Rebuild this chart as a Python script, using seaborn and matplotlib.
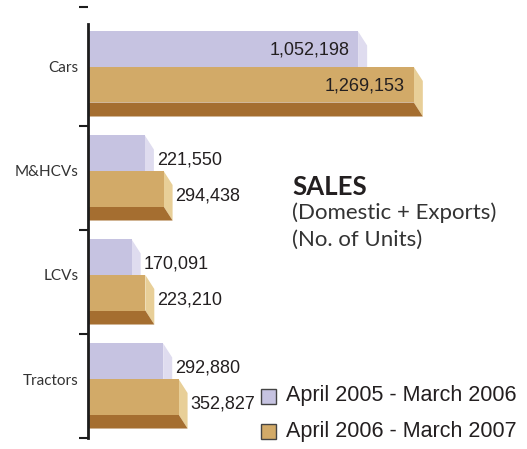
import numpy as np
import pandas as pd
import matplotlib
matplotlib.use("Agg")
import matplotlib.pyplot as plt
from matplotlib.patches import Polygon, Rectangle
import seaborn as sns

categories = ["Cars", "M&HCVs", "LCVs", "Tractors"]
periods = ["April 2005 - March 2006", "April 2006 - March 2007"]
units_2005_06 = [1052198, 221550, 170091, 292880]
units_2006_07 = [1269153, 294438, 223210, 352827]

face_colors = ["#c6c3e1", "#d2aa68"]
side_colors = ["#dfdcef", "#e8cf98"]
bottom_colors = ["#a9a6c8", "#a56e30"]

df = pd.DataFrame({
    "category": categories * 2,
    "period": [periods[0]] * len(categories) + [periods[1]] * len(categories),
    "units": units_2005_06 + units_2006_07,
})

sns.set_theme(style="white")
W, H = 527, 449
fig = plt.figure(figsize=(W / 100, H / 100), dpi=100)
ax = fig.add_axes([88 / W, 0, 1 - 88 / W, 1])

sns.barplot(data=df, y="category", x="units", hue="period", order=categories,
            hue_order=periods, palette=face_colors, width=0.683, orient="h",
            saturation=1, errorbar=None, legend=False, linewidth=0, ax=ax)

XMAX = 1.71e6
ax.set_xlim(0, XMAX)
ax.set_ylim(3.673, -0.644)

# axis styling: single left spine with boundary ticks
for side in ["top", "right", "bottom"]:
    ax.spines[side].set_visible(False)
ax.spines["left"].set_bounds(-0.413, 3.567)
ax.spines["left"].set_linewidth(2)
ax.spines["left"].set_color("#1c1c1c")
ax.spines["left"].set_zorder(10)
ax.set_xticks([])
ax.set_xlabel("")
ax.set_ylabel("")
ax.set_yticks(range(len(categories)))
ax.set_yticklabels(categories, family="Lato", fontsize=11, color="#333333")
ax.set_yticks([-0.577, 0.567, 1.567, 2.567, 3.567], minor=True)
ax.tick_params(axis="y", which="major", length=0, pad=7)
ax.tick_params(axis="y", which="minor", length=6.5, width=1.5, color="#1c1c1c", left=True)

# 3D depth offset (pixels -> data units)
o = ax.transData.transform((0, 0))
d = ax.transData.inverted().transform(o + np.array([9, -14]))
dx, dy = d[0], d[1]
px_per_unit = (ax.transData.transform((1e6, 0))[0] - o[0]) / 1e6

for k, cont in enumerate(ax.containers):
    for bar in cont:
        w = bar.get_width()
        y0 = bar.get_y()
        y1 = y0 + bar.get_height()
        bar.set_zorder(2 * k + 2)
        ax.add_patch(Polygon([(w, y0), (w + dx, y0 + dy), (w + dx, y1 + dy), (w, y1)],
                             closed=True, facecolor=side_colors[k], edgecolor="none",
                             zorder=2 * k + 1.5))
        ax.add_patch(Polygon([(0, y1), (w, y1), (w + dx, y1 + dy), (0, y1 + dy)],
                             closed=True, facecolor=bottom_colors[k], edgecolor="none",
                             zorder=2 * k + 1.5))
        yc = (y0 + y1) / 2
        text = f"{int(round(w)):,}"
        if w * px_per_unit > 150:
            ax.annotate(text, (w, yc), xytext=(-9, -1), textcoords="offset pixels",
                        ha="right", va="center", family="Liberation Sans",
                        fontsize=13, color="#231f20", zorder=20)
        else:
            ax.annotate(text, (w, yc), xytext=(9 + 3, -7), textcoords="offset pixels",
                        ha="left", va="center", family="Liberation Sans",
                        fontsize=13, color="#231f20", zorder=20)

# title block
fig.text(292 / W, 1 - 187 / H, "SALES", family="Lato", fontweight="bold",
         fontsize=18.5, color="#231f20", va="center", ha="left")
fig.text(292 / W, 1 - 213 / H, "(Domestic + Exports)", family="Lato",
         fontsize=16, color="#333333", va="center", ha="left")
fig.text(292 / W, 1 - 240 / H, "(No. of Units)", family="Lato",
         fontsize=16, color="#333333", va="center", ha="left")

# legend
for yc, col, lab in [(396, face_colors[0], periods[0]), (431, face_colors[1], periods[1])]:
    fig.patches.append(Rectangle((261 / W, 1 - (yc + 7.5) / H), 15 / W, 15 / H,
                                 transform=fig.transFigure, facecolor=col,
                                 edgecolor="#444444", linewidth=1))
    fig.text(286 / W, 1 - yc / H, lab, family="Liberation Sans", fontsize=15.5,
             color="#231f20", va="center", ha="left")

fig.savefig("out.png", dpi=100)
